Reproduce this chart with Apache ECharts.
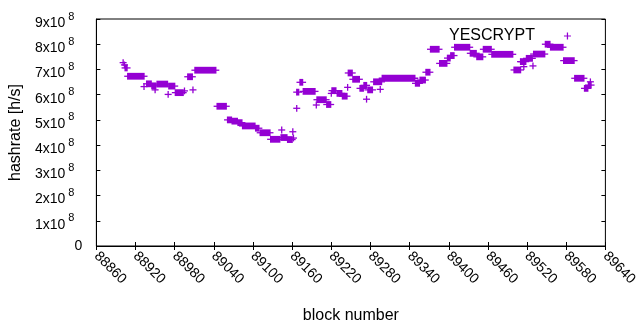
<!DOCTYPE html>
<html>
<head>
<meta charset="utf-8">
<script src="https://cdn.jsdelivr.net/npm/echarts@6/dist/echarts.min.js"></script>
<style>
  html, body { margin: 0; padding: 0; background: #fff; }
  #chart { width: 640px; height: 330px; }
</style>
</head>
<body>
<div id="chart"></div>
<script>
// runs of blocks sharing the same hashrate (a single block when start == end)
const runStart = [88901, 88903, 88904, 88908, 88933, 88937, 88945, 88950, 88953, 88970,
  88971, 88981, 88995, 89000, 89008, 89011, 89045, 89061, 89068, 89077,
  89084, 89104, 89111, 89127, 89144, 89143, 89153, 89161, 89162, 89167,
  89167, 89172, 89177, 89197, 89198, 89213, 89220, 89221, 89229, 89237,
  89245, 89246, 89253, 89264, 89270, 89274, 89276, 89285, 89295, 89298,
  89349, 89356, 89365, 89372, 89386, 89398, 89403, 89409, 89433, 89443,
  89453, 89466, 89500, 89510, 89511, 89515, 89519, 89529, 89530, 89548,
  89556, 89576, 89593, 89608, 89614, 89617]
const runEnd = [88901, 88903, 88907, 88933, 88933, 88944, 88951, 88950, 88969, 88970,
  88980, 88993, 88995, 89007, 89008, 89043, 89059, 89067, 89076, 89083,
  89103, 89109, 89126, 89141, 89144, 89152, 89160, 89161, 89162, 89167,
  89170, 89176, 89195, 89197, 89212, 89219, 89220, 89227, 89236, 89244,
  89245, 89252, 89263, 89269, 89274, 89274, 89283, 89297, 89295, 89348,
  89355, 89364, 89371, 89385, 89397, 89402, 89408, 89432, 89442, 89452,
  89465, 89498, 89510, 89510, 89518, 89515, 89528, 89529, 89547, 89555,
  89575, 89592, 89607, 89613, 89618, 89617]
// hashrate in units of 10^8 h/s
const runRate = [7.27, 7.18, 7.06, 6.73, 6.32, 6.43, 6.35, 6.19, 6.42, 6.01,
  6.34, 6.08, 6.15, 6.71, 6.19, 6.97, 5.54, 5.00, 4.95, 4.89,
  4.76, 4.67, 4.49, 4.23, 4.60, 4.30, 4.22, 4.53, 4.28, 5.46,
  6.10, 6.49, 6.13, 5.59, 5.80, 5.61, 6.05, 6.16, 6.05, 5.94,
  6.29, 6.86, 6.61, 6.25, 6.37, 5.82, 6.19, 6.51, 6.21, 6.65,
  6.45, 6.58, 6.89, 7.80, 7.24, 7.45, 7.55, 7.88, 7.64, 7.50,
  7.80, 7.60, 6.98, 7.31, 7.31, 7.11, 7.44, 7.14, 7.61, 8.00,
  7.88, 7.35, 6.65, 6.25, 6.38, 6.51]

const color = '#9400d3'
const font = 'Liberation Sans, Arial, sans-serif'

const chart = echarts.init(document.getElementById('chart'), null, { renderer: 'canvas' })

const runs = runStart.map((s, i) => [s, runEnd[i], runRate[i]])

// y tick label like 9x10^8
function yLabel(v) {
  if (v === 0) return '{z|0}'
  return '{a|' + v + 'x10}{s|8}'
}

const tickStyle = { show: true, inside: true, length: 4, lineStyle: { color: '#000' } }

chart.setOption({
  animation: false,
  grid: {
    left: 94, top: 19, width: 515, height: 227,
    show: true, borderColor: '#000', borderWidth: 1, backgroundColor: 'transparent'
  },
  legend: {
    data: [{ name: 'YESCRYPT', icon: 'path://M3,0h1.3v3h3v1.3h-3v3h-1.3v-3h-3v-1.3h3z' }],
    left: 444, top: 23,
    align: 'right',
    itemWidth: 7, itemHeight: 7,
    itemStyle: { color: color },
    textStyle: { fontFamily: font, fontSize: 16, color: '#000', padding: [0, 24, 0, 0] }
  },
  xAxis: [{
    type: 'value',
    min: 88860, max: 89640, interval: 60,
    name: 'block number',
    nameLocation: 'middle',
    nameGap: 62,
    nameTextStyle: { fontFamily: font, fontSize: 16, color: '#000' },
    axisLine: { show: true, lineStyle: { color: '#000' } },
    axisTick: tickStyle,
    splitLine: { show: false },
    axisLabel: {
      rotate: -45, margin: 8, fontFamily: font, fontSize: 14, color: '#000',
      formatter: v => String(v)
    }
  }, {
    type: 'value', position: 'top',
    min: 88860, max: 89640, interval: 60,
    axisLine: { show: false },
    axisTick: tickStyle,
    axisLabel: { show: false },
    splitLine: { show: false }
  }],
  yAxis: [{
    type: 'value',
    min: 0, max: 9, interval: 1,
    name: 'hashrate [h/s]',
    nameLocation: 'middle',
    nameGap: 70,
    nameTextStyle: { fontFamily: font, fontSize: 16, color: '#000' },
    axisLine: { show: true, lineStyle: { color: '#000' } },
    axisTick: tickStyle,
    splitLine: { show: false },
    axisLabel: {
      margin: 14,
      formatter: yLabel,
      rich: {
        z: { fontFamily: font, fontSize: 14, color: '#000' },
        a: { fontFamily: font, fontSize: 14, color: '#000', verticalAlign: 'bottom', lineHeight: 22 },
        s: { fontFamily: font, fontSize: 11, color: '#000', verticalAlign: 'top', padding: [3, 8, 0, 3] }
      }
    }
  }, {
    type: 'value', position: 'right',
    min: 0, max: 9, interval: 1,
    axisLine: { show: false },
    axisTick: tickStyle,
    axisLabel: { show: false },
    splitLine: { show: false }
  }],
  series: [{
    name: 'YESCRYPT',
    type: 'custom',
    itemStyle: { color: color },
    encode: { x: [0, 1], y: 2 },
    data: runs,
    renderItem: function (params, api) {
      const a = api.coord([api.value(0), api.value(2)])
      const b = api.coord([api.value(1), api.value(2)])
      return {
        type: 'group',
        children: [
          {
            type: 'rect',
            shape: { x: a[0] - 0.65, y: a[1] - 3.4, width: b[0] - a[0] + 1.3, height: 6.8 },
            style: { fill: color }
          },
          {
            type: 'line',
            shape: { x1: a[0] - 3.5, y1: a[1], x2: b[0] + 3.5, y2: a[1] },
            style: { stroke: color, lineWidth: 1.3 }
          }
        ]
      }
    }
  }]
})
</script>
</body>
</html>
